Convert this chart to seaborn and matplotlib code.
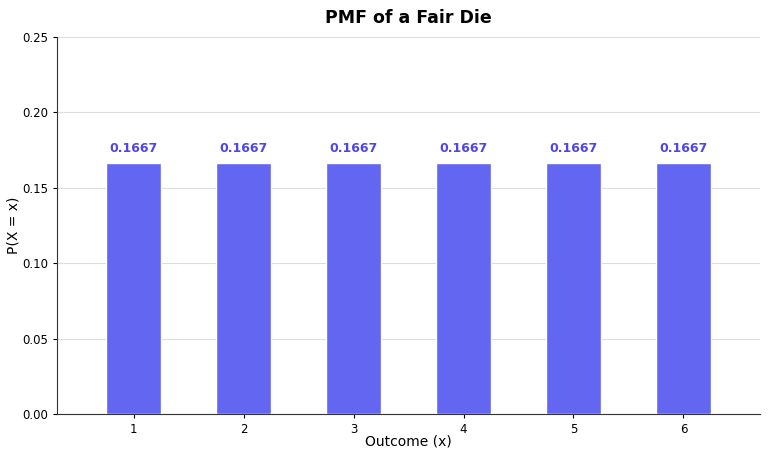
import matplotlib
matplotlib.use("Agg")
import matplotlib.pyplot as plt
import seaborn as sns
import pandas as pd

outcomes = [1, 2, 3, 4, 5, 6]
probs = [1 / 6] * 6
bar_color = "#6366F1"
label_color = "#4F46E5"

sns.set_style("white")
plt.rcParams['font.family'] = ['DejaVu Sans']
plt.rcParams['text.color'] = 'black'
plt.rcParams['axes.labelcolor'] = 'black'
plt.rcParams['xtick.color'] = 'black'
plt.rcParams['ytick.color'] = 'black'

df = pd.DataFrame({'x': outcomes, 'p': probs})

fig, ax = plt.subplots(figsize=(7.68, 4.58), dpi=100)
sns.barplot(data=df, x='x', y='p', color=bar_color, saturation=1, width=0.5,
            edgecolor='white', linewidth=1, ax=ax, zorder=3)

# value labels above bars
for i, p in enumerate(probs):
    ax.text(i, p + 0.005, '{:.4f}'.format(p), ha='center', va='bottom',
            color=label_color, fontsize=9, fontweight='bold')

ax.set_xlim(-0.7, 5.7)
ax.set_ylim(0, 0.25)
ax.set_yticks([0, 0.05, 0.10, 0.15, 0.20, 0.25])
ax.set_yticklabels(['0.00', '0.05', '0.10', '0.15', '0.20', '0.25'])
ax.yaxis.grid(True, color='#dddddd', linewidth=0.8, zorder=0)
ax.set_axisbelow(True)
sns.despine(ax=ax)
for s in ['left', 'bottom']:
    ax.spines[s].set_color('#333333')
ax.tick_params(axis='both', labelsize=8.5, length=3, left=True, bottom=True)

ax.set_title('PMF of a Fair Die', fontsize=12.5, fontweight='bold', pad=10)
ax.set_xlabel('Outcome (x)', fontsize=10, labelpad=-1)
ax.set_ylabel('P(X = x)', fontsize=10, labelpad=1)

fig.subplots_adjust(left=0.074, right=0.99, top=0.919, bottom=0.096)
fig.savefig('out.png', dpi=100)
